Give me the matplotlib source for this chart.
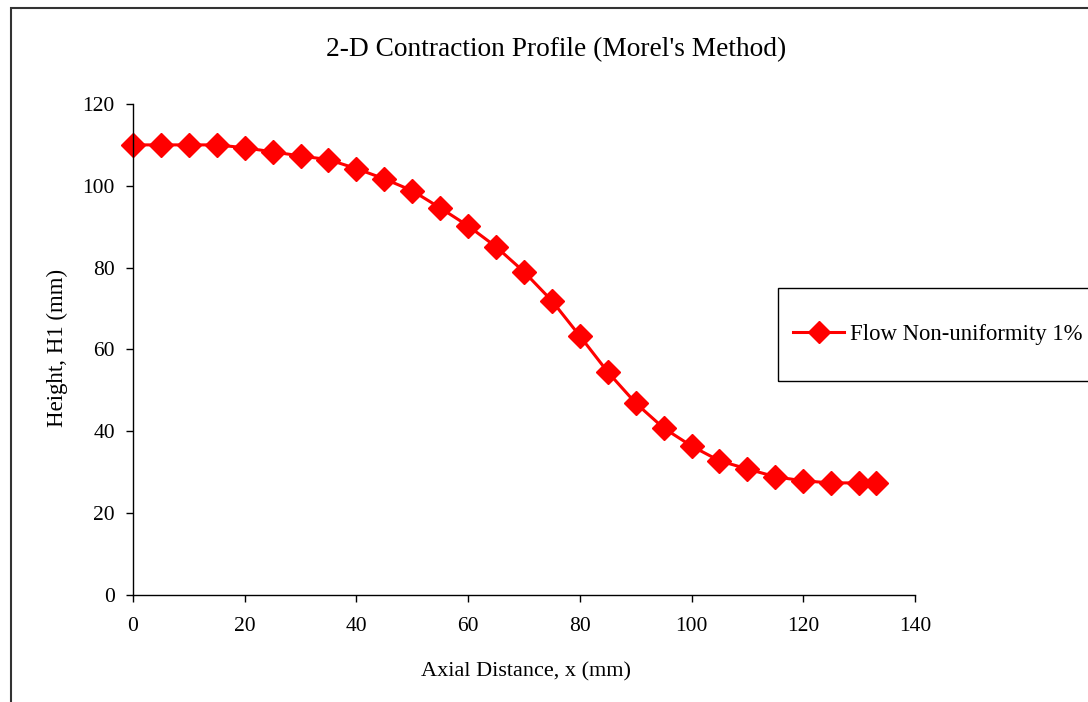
import matplotlib.pyplot as plt
from matplotlib.patches import Rectangle

plt.rcParams['font.family'] = ['Liberation Serif', 'DejaVu Serif']

x_mm = [0, 5, 10, 15, 20, 25, 30, 35, 40, 45, 50, 55, 60, 65, 70, 75, 80,
        85, 90, 95, 100, 105, 110, 115, 120, 125, 130, 133]
h1_mm = [110, 110, 110, 110, 109.3, 108.3, 107.3, 106.4, 104.2, 101.7, 98.8,
         94.6, 90.2, 85.1, 79.0, 71.9, 63.3, 54.5, 46.9, 40.8, 36.4, 32.8,
         30.8, 28.9, 27.9, 27.4, 27.4, 27.4]
series_name = "Flow Non-uniformity 1%"

fig = plt.figure(figsize=(10.88, 7.02), dpi=100)
ax = fig.add_axes([0.1222, 0.1524, 0.7188, 0.6995])

ax.plot(x_mm, h1_mm, color='#ff0000', lw=2.2, marker='D', ms=12,
        mec='#ff0000', mfc='#ff0000', label=series_name, clip_on=False)

ax.set_xlim(0, 140)
ax.set_ylim(0, 120)
ax.set_xticks(range(0, 141, 20))
ax.set_yticks(range(0, 121, 20))
for s in ['top', 'right']:
    ax.spines[s].set_visible(False)
for s in ['left', 'bottom']:
    ax.spines[s].set_linewidth(1.0)
ax.tick_params(direction='out', length=5, width=1, labelsize=15.5)
ax.tick_params(axis='x', pad=11)
ax.tick_params(axis='y', pad=8)

fig.text(0.5115, 0.929, "2-D Contraction Profile (Morel's Method)",
         ha='center', va='center', fontsize=19.7)
fig.text(0.483, 0.043, "Axial Distance, x (mm)", ha='center', va='center',
         fontsize=16)
fig.text(0.053, 0.504, "Height, H1 (mm)", ha='center', va='center',
         rotation=90, fontsize=16.5)

# legend entries without frame; the box is drawn separately (it runs off the right edge)
leg = fig.legend(loc='center left', bbox_to_anchor=(793 / 1088, 1 - 334.5 / 702),
                 fontsize=16.4, frameon=False, borderpad=0, markerscale=0.9,
                 handlelength=2.25, handletextpad=0.25, borderaxespad=0)
fig.patches.append(Rectangle((778 / 1088, 1 - 381 / 702), 0.5, 93 / 702,
                             transform=fig.transFigure, fill=False,
                             edgecolor='black', lw=1.0))

# chart area border (right and bottom edges fall outside the image)
fig.patches.append(Rectangle((11 / 1088, -0.1), 1.2, 1.1 - 8 / 702,
                             transform=fig.transFigure, fill=False,
                             edgecolor='#333333', lw=1.5))

fig.savefig('out.png', dpi=100)
